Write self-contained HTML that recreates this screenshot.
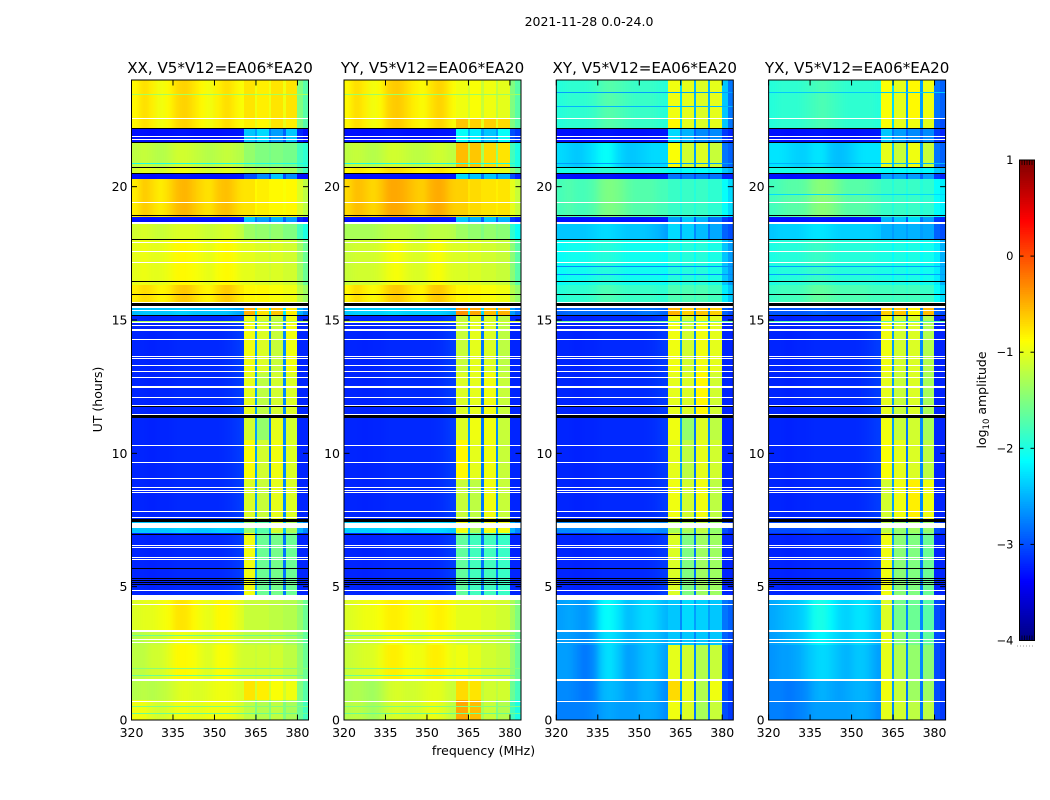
<!DOCTYPE html>
<html lang="en">
<head>
<meta charset="utf-8">
<title>2021-11-28 0.0-24.0</title>
<style>
html,body{margin:0;padding:0;background:#fff}
svg{display:block}
text{font-family:"DejaVu Sans","Liberation Sans",sans-serif;fill:#000}
</style>
</head>
<body>
<svg id="figure" xmlns="http://www.w3.org/2000/svg" width="1050" height="800" viewBox="0 0 1050 800">
  <defs>
    <filter id="smooth-frequency" filterUnits="userSpaceOnUse" x="0" y="0" width="1050" height="800" color-interpolation-filters="sRGB">
      <feGaussianBlur stdDeviation="3.5 0"/>
    </filter>
  </defs>
  <text x="589" y="26" text-anchor="middle" font-size="12.5">2021-11-28 0.0-24.0</text>
  <text x="483.5" y="755" text-anchor="middle" font-size="12.5">frequency (MHz)</text>
  <text transform="translate(102,399.5) rotate(-90)" text-anchor="middle" font-size="12.5">UT (hours)</text>
  <text transform="translate(986,400) rotate(-90)" text-anchor="middle" font-size="12.5">log<tspan font-size="8.5" dy="3">10</tspan><tspan dy="-3"> amplitude</tspan></text>
  <g id="panels"></g>
  <g id="colorbar"></g>
</svg>
<script>
const freqEdges=[320,323,326,329,332,335,338,341,344,347,350,353,356,358.5,360.5,364.7,365.5,369.7,370.5,374.9,375.7,379.9,382,384];
const utEdges=[0,0.75,1.5,2.8,3.35,4.7,7,7.5,9,10.5,11.45,13,15.2,15.65,16.3,18,18.6,18.87,20.28,20.5,20.73,21.63,22.16,22.55,24];
const freqTicks=[320,335,350,365,380];
const utTicks=[0,5,10,15,20];
const colorTicks=[-4,-3,-2,-1,0,1];
const panelTitles=["XX, V5*V12=EA06*EA20","YY, V5*V12=EA06*EA20","XY, V5*V12=EA06*EA20","YX, V5*V12=EA06*EA20"];

const flaggedIntervals=[[0.68,0.72],[1.48,1.55],[2.88,2.92],[3,3.04],[3.3,3.37],[4.31,4.35],[4.5,4.69],[4.83,4.87],[6.01,6.05],[6.08,6.12],[6.44,6.48],[6.54,6.58],[7.22,7.4],[7.58,7.62],[7.8,7.84],[8.52,8.56],[8.58,8.62],[8.69,8.73],[9.03,9.07],[9.64,9.68],[10.28,10.32],[11.44,11.48],[11.78,11.82],[12.08,12.12],[12.47,12.53],[12.83,12.87],[13.05,13.09],[13.26,13.3],[13.53,13.57],[13.6,13.64],[14.23,14.27],[14.59,14.65],[14.79,14.83],[14.89,14.93],[15.33,15.37],[15.45,15.56],[15.65,15.69],[17.12,17.16],[17.53,17.57],[17.87,17.91],[18.6,18.67],[19.37,19.41],[21.76,21.8],[21.87,21.91],[22.53,22.57]];
const blankedIntervals=[[5.05,5.09],[5.13,5.17],[5.2,5.24],[5.28,5.32],[5.67,5.71],[6.94,6.98],[7.42,7.53],[11.32,11.43],[11.73,11.77],[15.16,15.2],[15.53,15.63],[15.94,15.98],[16.43,16.47],[17.98,18.02],[18.88,18.92],[20.49,20.53],[20.7,20.74],[21.64,21.68],[22.17,22.21]];

const blueLow=[-3.2,-3.2,-3.22,-3.2,-3.2,-3.18,-3.18,-3.18,-3.18,-3.18,-3.18,-3.16,-3.12,-3.08];
const gapLow=[-3.3,-3.3,-3.32,-3.3,-3.3,-3.28,-3.28,-3.3,-3.3,-3.3,-3.3,-3.28,-3.28,-3.26];

const xxRows=[
[-.95,-.95,-1.05,-1.1,-1.05,-.95,-.95,-1,-1,-.95,-.95,-.95,-1,-1.1,-1.2,-1.5,-1.25,-1.5,-1.2,-1.5,-1.3,-1.6,-1.8],
[-1.25,-1.2,-1.25,-1.2,-1.15,-1.05,-1,-1.05,-1.05,-1,-.95,-.95,-1,-1.05,-.75,-1.1,-.8,-1.1,-.9,-1.1,-.95,-1.5,-1.7],
[-1.2,-1.2,-1.1,-1.1,-1,-.85,-.85,-.9,-1,-1.05,-.9,-.9,-1,-1.1,-1.1,-1.15,-1.1,-1.15,-1.1,-1.2,-1.2,-1.4,-1.6],
[-1.25,-1.2,-1.15,-1.15,-1.05,-.95,-.95,-1,-1.05,-1.1,-1,-1,-1.05,-1.15,-1.2,-1.2,-1.2,-1.25,-1.2,-1.25,-1.3,-1.45,-1.65],
[-1.05,-1,-1,-.95,-.9,-.75,-.75,-.85,-.95,-1,-.85,-.85,-.95,-1.05,-1.15,-1.15,-1.15,-1.2,-1.2,-1.25,-1.25,-1.4,-1.6],
[...blueLow,-.95,-2.6,-1.6,-2.8,-1.55,-2.8,-1.6,-3.2,-3.2],
[-2.4,-2.4,-2.4,-2.4,-2.4,-2.35,-2.35,-2.4,-2.4,-2.4,-2.35,-2.35,-2.4,-2.4,-1.4,-2.3,-1.7,-2.5,-1.1,-2.4,-1.3,-2.5,-2.7],
[...blueLow,-1.05,-2.6,-1.15,-2.8,-1,-2.7,-1.05,-3.2,-3.2],
[...blueLow,-.9,-2.6,-1.1,-2.8,-.95,-2.7,-1.05,-3.2,-3.2],
[...blueLow,-1.1,-2.6,-1.4,-2.8,-1,-2.7,-1.1,-3.2,-3.2],
[...blueLow,-1,-2.6,-1.2,-2.7,-1.1,-2.7,-1.05,-3.2,-3.2],
[...blueLow,-.95,-2.6,-1.05,-2.7,-1.15,-2.7,-.95,-3.2,-3.2],
[-2.45,-2.4,-2.4,-2.4,-2.4,-2.35,-2.35,-2.4,-2.4,-2.4,-2.4,-2.4,-2.5,-2.55,-.5,-2.2,-.75,-2.2,-.6,-2.2,-.8,-2.5,-2.7],
[-.8,-.7,-.75,-.85,-.8,-.65,-.6,-.7,-.8,-.85,-.7,-.6,-.7,-.8,-.85,-.9,-.85,-.9,-.9,-.95,-.95,-1.2,-1.35],
[-1,-.95,-1,-1,-.95,-.85,-.85,-.9,-.95,-1,-.9,-.85,-.9,-1,-1,-1.05,-1.05,-1.1,-1.05,-1.1,-1.1,-1.35,-1.6],
[-1.1,-1.05,-1.1,-1.15,-1.1,-1.05,-1.05,-1.05,-1.1,-1.15,-1.1,-1.05,-1.1,-1.2,-1.35,-1.45,-1.4,-1.5,-1.4,-1.5,-1.5,-1.8,-2],
[...gapLow,-2.4,-2.8,-2.6,-2.9,-2.5,-2.9,-2.6,-3.2,-3.3],
[-.8,-.6,-.7,-.8,-.7,-.55,-.5,-.6,-.7,-.75,-.6,-.55,-.65,-.75,-.75,-.85,-.8,-.85,-.85,-.9,-.85,-1.05,-1.2],
[...gapLow,-3,-3,-2.7,-3,-2.4,-3,-2.7,-3.3,-3.3],
[-1.1,-1,-1.05,-1.1,-1.05,-.95,-.95,-1,-1.05,-1.1,-1.05,-1,-1.05,-1.1,-1.2,-1.3,-1.2,-1.3,-1.25,-1.3,-1.3,-1.6,-1.8],
[-1.2,-1.15,-1.2,-1.25,-1.2,-1.1,-1.1,-1.15,-1.2,-1.25,-1.2,-1.15,-1.2,-1.25,-1.4,-1.5,-1.5,-1.55,-1.5,-1.55,-1.55,-1.8,-1.9],
[...gapLow,-2.4,-2.6,-2.3,-2.8,-2.6,-2.9,-2.4,-3.2,-3.3],
[-.85,-.7,-.8,-.95,-.85,-.7,-.65,-.75,-.85,-.95,-.8,-.7,-.8,-.9,-.8,-1,-.85,-1,-.75,-1,-.8,-1.5,-1.7],
[-.85,-.7,-.8,-.95,-.85,-.7,-.65,-.75,-.85,-.95,-.8,-.7,-.8,-.9,-.75,-.95,-.8,-.95,-.75,-.95,-.75,-1.5,-1.7]
];
const yyRows=[
[-1.25,-1.2,-1.25,-1.35,-1.25,-1.1,-1.05,-1.1,-1.1,-1.05,-.95,-1,-1.1,-1.2,-.45,-1,-.55,-1.3,-1.15,-1.5,-1.25,-1.8,-2],
[-1.3,-1.25,-1.3,-1.35,-1.25,-1.1,-1.05,-1.1,-1.1,-1.05,-1,-1,-1.1,-1.15,-.7,-1.05,-.75,-1.2,-1.1,-1.2,-1.1,-1.6,-1.8],
[-1.15,-1.1,-1.05,-1.05,-.95,-.8,-.8,-.9,-.95,-.95,-.8,-.8,-.9,-1,-.95,-1.05,-1,-1.1,-1.1,-1.15,-1.15,-1.4,-1.6],
[-1.2,-1.15,-1.1,-1.1,-1.05,-.95,-.95,-1,-1.05,-1.05,-.95,-.95,-1,-1.05,-1.1,-1.1,-1.1,-1.15,-1.15,-1.2,-1.2,-1.4,-1.6],
[-1.05,-1,-.95,-.95,-.9,-.8,-.8,-.85,-.95,-.95,-.85,-.8,-.85,-.95,-1,-1,-1,-1.05,-1.05,-1.1,-1.1,-1.3,-1.5],
[...blueLow,-1.65,-2.6,-1.8,-2.8,-1.8,-2.8,-1.85,-3.2,-3.2],
[-2.35,-2.35,-2.35,-2.35,-2.35,-2.3,-2.3,-2.35,-2.35,-2.3,-2.3,-2.3,-2.35,-2.4,-.95,-2.4,-1.3,-2.6,-.95,-2.6,-.95,-2.5,-2.7],
[...blueLow,-1.15,-2.6,-1.2,-2.8,-.95,-2.7,-1.15,-3.2,-3.2],
[...blueLow,-.85,-2.6,-1,-2.8,-.95,-2.7,-1.15,-3.2,-3.2],
[...blueLow,-1.05,-2.6,-.95,-2.8,-.95,-2.7,-1.15,-3.2,-3.2],
[...blueLow,-1.05,-2.6,-1,-2.8,-.95,-2.7,-1.15,-3.2,-3.2],
[...blueLow,-1.15,-2.6,-1,-2.8,-1.05,-2.7,-1.2,-3.2,-3.2],
[-2.4,-2.35,-2.35,-2.35,-2.35,-2.3,-2.3,-2.35,-2.35,-2.35,-2.35,-2.35,-2.4,-2.45,-.35,-2.1,-.45,-2.3,-.55,-2.4,-.5,-2.6,-2.8],
[-.85,-.7,-.8,-.9,-.8,-.65,-.6,-.7,-.8,-.85,-.65,-.6,-.7,-.8,-.85,-.9,-.85,-.9,-.9,-.95,-.95,-1.25,-1.4],
[-1.15,-1.1,-1.1,-1.1,-1.05,-.95,-.9,-1,-1.05,-1.05,-.95,-.9,-1,-1.05,-1.05,-1.1,-1.05,-1.1,-1.1,-1.15,-1.15,-1.45,-1.7],
[-1.3,-1.3,-1.3,-1.3,-1.25,-1.2,-1.2,-1.2,-1.25,-1.3,-1.2,-1.2,-1.2,-1.25,-1.35,-1.45,-1.4,-1.5,-1.4,-1.5,-1.45,-1.9,-2.1],
[...gapLow,-2.4,-2.7,-2.5,-2.9,-2.4,-2.9,-2.5,-3.1,-3.2],
[-.7,-.55,-.6,-.7,-.6,-.45,-.45,-.5,-.6,-.65,-.5,-.45,-.55,-.65,-.65,-.75,-.7,-.75,-.75,-.8,-.75,-1,-1.15],
[...gapLow,-2.3,-2.7,-2.4,-2.8,-2.4,-2.8,-2.5,-3,-3.2],
[-.85,-.75,-.8,-.85,-.8,-.7,-.7,-.75,-.8,-.85,-.8,-.75,-.8,-.85,-.9,-1,-.9,-1,-.95,-1,-1,-1.4,-1.6],
[-1.2,-1.15,-1.2,-1.25,-1.2,-1.1,-1.1,-1.15,-1.2,-1.2,-1.15,-1.1,-1.15,-1.2,-.55,-1.2,-.6,-1.3,-.7,-1.4,-.75,-1.8,-2],
[...gapLow,-2.1,-2.5,-2.2,-2.6,-2.4,-2.6,-2.1,-3,-3.1],
[-.85,-.7,-.8,-.95,-.85,-.65,-.6,-.7,-.8,-.9,-.75,-.65,-.75,-.9,-.6,-1,-.65,-1,-.65,-1,-.7,-1.5,-1.7],
[-.85,-.7,-.8,-.95,-.85,-.65,-.6,-.7,-.8,-.9,-.75,-.65,-.75,-.9,-.95,-1.1,-.9,-1.15,-.95,-1.2,-1,-1.5,-1.7]
];
const xyRows=[
[-2.75,-2.75,-2.75,-2.75,-2.7,-2.6,-2.55,-2.6,-2.6,-2.6,-2.55,-2.55,-2.6,-2.7,-.95,-2.7,-1.05,-2.8,-1.3,-2.8,-1.15,-3,-3.1],
[-2.7,-2.7,-2.75,-2.8,-2.75,-2.5,-2.45,-2.5,-2.6,-2.6,-2.5,-2.5,-2.6,-2.7,-.7,-2.6,-1,-2.8,-1.25,-2.8,-.95,-3,-3.1],
[-2.6,-2.6,-2.7,-2.8,-2.7,-2.35,-2.25,-2.4,-2.6,-2.55,-2.45,-2.4,-2.5,-2.6,-1,-2.6,-1.1,-2.7,-1.25,-2.7,-1.15,-3,-3.1],
[-2.6,-2.6,-2.65,-2.7,-2.6,-2.3,-2.25,-2.35,-2.5,-2.5,-2.4,-2.4,-2.45,-2.55,-2.4,-2.7,-2.4,-2.7,-2.4,-2.7,-2.4,-2.9,-3],
[-2.6,-2.55,-2.6,-2.65,-2.5,-2.15,-2.1,-2.25,-2.45,-2.4,-2.3,-2.3,-2.4,-2.5,-2.4,-2.7,-2.3,-2.6,-2.35,-2.6,-2.4,-2.8,-2.9],
[...blueLow,-1.05,-2.6,-1.5,-2.8,-1.35,-2.8,-1.35,-3.2,-3.2],
[-2.7,-2.7,-2.7,-2.7,-2.7,-2.65,-2.65,-2.7,-2.7,-2.7,-2.65,-2.65,-2.7,-2.7,-1.3,-2.5,-1.3,-2.7,-1.2,-2.6,-1.4,-3,-3.1],
[...blueLow,-.95,-2.6,-1.1,-2.8,-.95,-2.7,-1.2,-3.2,-3.2],
[...blueLow,-1,-2.6,-1.2,-2.8,-1,-2.7,-1.1,-3.2,-3.2],
[...blueLow,-.95,-2.6,-1.4,-2.8,-1.05,-2.7,-1.2,-3.2,-3.2],
[...blueLow,-1,-2.6,-1.05,-2.7,-.85,-2.7,-1.1,-3.2,-3.2],
[...blueLow,-.95,-2.6,-1.1,-2.7,-.95,-2.7,-1,-3.2,-3.2],
[-2.9,-2.85,-2.85,-2.85,-2.85,-2.85,-2.85,-2.85,-2.85,-2.85,-2.8,-2.8,-2.85,-2.9,-.5,-2.5,-.65,-2.7,-.6,-2.7,-.65,-2.9,-3],
[-1.95,-1.9,-1.9,-1.9,-1.85,-1.75,-1.75,-1.8,-1.85,-1.85,-1.85,-1.85,-1.9,-1.9,-1.75,-1.85,-1.75,-1.85,-1.75,-1.85,-1.8,-2.2,-2.4],
[-2.1,-2.05,-2.05,-2.05,-2,-1.95,-1.95,-2,-2.05,-2.05,-2.05,-2.05,-2.05,-2.1,-1.95,-2.1,-1.95,-2.1,-1.95,-2.1,-2,-2.4,-2.6],
[-2.4,-2.4,-2.4,-2.4,-2.35,-2.3,-2.3,-2.35,-2.4,-2.4,-2.4,-2.45,-2.5,-2.6,-2.3,-2.7,-2.35,-2.7,-2.45,-2.8,-2.55,-2.9,-3],
[...gapLow,-2.6,-2.9,-2.4,-2.9,-2.5,-2.9,-2.8,-3.1,-3.2],
[-1.78,-1.72,-1.78,-1.78,-1.72,-1.55,-1.5,-1.55,-1.65,-1.72,-1.72,-1.72,-1.78,-1.78,-1.85,-1.95,-1.85,-1.95,-1.85,-1.95,-1.9,-2.1,-2.3],
[...gapLow,-2.8,-3,-2.8,-3,-2.8,-3,-2.8,-3.2,-3.2],
[-2,-2,-2,-2,-1.95,-1.9,-1.9,-1.95,-2,-2,-2,-2,-2,-2.05,-2.1,-2.2,-2.1,-2.2,-2.1,-2.2,-2.1,-2.4,-2.5],
[-2.3,-2.35,-2.4,-2.35,-2.25,-2.1,-2.1,-2.3,-2.4,-2.4,-2.35,-2.3,-2.3,-2.3,-.9,-2.4,-1.1,-2.6,-1.05,-2.6,-1.15,-2.8,-2.9],
[...gapLow,-2.3,-2.7,-2.5,-2.9,-2.7,-2.9,-2.7,-3.1,-3.2],
[-1.95,-1.9,-1.9,-1.9,-1.85,-1.75,-1.7,-1.75,-1.8,-1.85,-1.85,-1.85,-1.9,-1.95,-.85,-2.3,-1,-2.5,-1.05,-2.5,-1,-2.4,-2.8],
[-1.95,-1.9,-1.9,-1.9,-1.85,-1.75,-1.7,-1.75,-1.8,-1.85,-1.85,-1.85,-1.9,-1.95,-.95,-2.3,-1,-2.5,-1.05,-2.5,-1,-2.4,-2.8]
];
const yxRows=[
[-2.75,-2.75,-2.8,-2.75,-2.7,-2.6,-2.6,-2.6,-2.6,-2.6,-2.55,-2.55,-2.6,-2.7,-1,-2.7,-1.1,-2.8,-1.2,-2.8,-1.2,-3,-3.1],
[-2.75,-2.75,-2.8,-2.75,-2.7,-2.55,-2.5,-2.55,-2.6,-2.55,-2.5,-2.5,-2.55,-2.65,-.95,-2.6,-1.15,-2.8,-1.35,-2.8,-1.35,-3,-3.1],
[-2.65,-2.6,-2.6,-2.55,-2.45,-2.35,-2.3,-2.35,-2.45,-2.5,-2.4,-2.4,-2.5,-2.6,-1,-2.6,-1.25,-2.7,-1.4,-2.7,-1.45,-3,-3.1],
[-2.6,-2.55,-2.5,-2.45,-2.35,-2.2,-2.15,-2.25,-2.35,-2.4,-2.3,-2.3,-2.4,-2.5,-1,-2.6,-1.45,-2.7,-1.55,-2.7,-1.65,-3,-3.1],
[-2.55,-2.5,-2.45,-2.4,-2.3,-2.05,-2,-2.15,-2.3,-2.35,-2.25,-2.25,-2.35,-2.45,-1.05,-2.6,-1.55,-2.7,-1.6,-2.7,-1.7,-3,-3.1],
[...blueLow,-.95,-2.6,-1.45,-2.8,-1.5,-2.8,-1.6,-3.2,-3.2],
[-3,-3,-3,-3,-3,-2.95,-2.95,-3,-3,-3,-2.95,-2.95,-3,-3,-1.2,-2.5,-1.4,-2.7,-1.35,-2.6,-1.4,-3,-3.1],
[...blueLow,-1.1,-2.6,-.95,-2.8,-.8,-2.7,-.95,-3.2,-3.2],
[...blueLow,-.9,-2.6,-1,-2.8,-1.05,-2.7,-1.2,-3.2,-3.2],
[...blueLow,-.95,-2.6,-1.15,-2.8,-1.1,-2.7,-1.3,-3.2,-3.2],
[...blueLow,-1,-2.6,-1.15,-2.8,-1.05,-2.7,-1.3,-3.2,-3.2],
[...blueLow,-.95,-2.6,-1.1,-2.8,-1.05,-2.7,-1.25,-3.2,-3.2],
[-2.95,-2.95,-2.95,-2.95,-2.95,-2.9,-2.9,-2.95,-2.95,-2.95,-2.95,-2.95,-2.95,-3,-.65,-2.5,-.6,-2.7,-.85,-2.7,-.55,-2.9,-3],
[-1.85,-1.8,-1.8,-1.8,-1.75,-1.65,-1.65,-1.7,-1.75,-1.75,-1.75,-1.75,-1.8,-1.8,-1.8,-1.85,-1.8,-1.85,-1.8,-1.85,-1.85,-2.1,-2.3],
[-2,-1.95,-1.95,-1.95,-1.9,-1.85,-1.85,-1.9,-1.95,-1.95,-1.95,-1.95,-1.95,-2,-2,-2.1,-2,-2.1,-2,-2.1,-2.05,-2.2,-2.5],
[-2.4,-2.35,-2.35,-2.35,-2.3,-2.25,-2.25,-2.3,-2.35,-2.35,-2.35,-2.35,-2.35,-2.4,-2.5,-2.6,-2.5,-2.6,-2.5,-2.6,-2.55,-2.9,-3],
[...gapLow,-2.5,-2.8,-2.4,-2.9,-2.3,-2.8,-2.6,-3.1,-3.2],
[-1.8,-1.75,-1.7,-1.7,-1.65,-1.5,-1.45,-1.5,-1.6,-1.7,-1.7,-1.7,-1.75,-1.8,-1.85,-1.95,-1.85,-1.95,-1.85,-1.95,-1.9,-2.1,-2.2],
[...gapLow,-2.6,-2.8,-2.6,-2.9,-2.6,-2.9,-2.6,-3.1,-3.2],
[-2,-2,-2,-2,-1.95,-1.9,-1.9,-1.95,-2,-2,-2,-2,-2,-2.05,-2.1,-2.2,-2.1,-2.2,-2.1,-2.2,-2.15,-2.4,-2.5],
[-2.25,-2.25,-2.3,-2.35,-2.35,-2.25,-2.25,-2.4,-2.45,-2.4,-2.3,-2.25,-2.25,-2.25,-1,-2.4,-1.15,-2.6,-.95,-2.6,-1.15,-2.8,-2.9],
[...gapLow,-2.4,-2.8,-2.6,-2.9,-2.7,-2.9,-2.7,-3.1,-3.2],
[-1.95,-1.9,-1.9,-1.9,-1.85,-1.8,-1.75,-1.8,-1.85,-1.9,-1.9,-1.9,-1.9,-1.95,-.9,-2.3,-1,-2.6,-.95,-2.6,-1,-2.9,-3],
[-1.95,-1.9,-1.9,-1.9,-1.85,-1.8,-1.75,-1.8,-1.85,-1.9,-1.9,-1.9,-1.9,-1.95,-.9,-2.3,-1,-2.6,-.85,-2.6,-.95,-2.8,-2.9]
];

const xxStreakUT=[0.26,0.49,1.65,1.92,3.15,14.95,20.85,23.45];
const xxStreakLevel=[-1.6,-1.5,-1.6,-1.45,-1.6,-1.3,-2,-1.3];
const yyStreakUT=[0.26,0.49,1.65,1.92,3.15,14.95,20.85,23.45];
const yyStreakLevel=[-1.6,-1.5,-1.6,-1.45,-1.6,-1.1,-2,-1.35];
const xyStreakUT=[14.95,16.7,17,20.85,23,23.52];
const xyStreakLevel=[-1.6,-2.7,-2.7,-2.6,-2.5,-2.6];
const yxStreakUT=[14.95,16.7,17,19.7,20.85,23.52];
const yxStreakLevel=[-1.7,-2.6,-2.6,-2.3,-2.5,-2.4];

const svgNS="http://www.w3.org/2000/svg";
const plotTop=80,plotBottom=720,plotWidth=177;
const panelLefts=[131.5,344,556.3,768.6];
const smoothColumns=14;
function xScale(left,f){return left+(f-320)/64*plotWidth;}
function yScale(ut){return plotBottom-ut/24*(plotBottom-plotTop);}
function colorbarScale(v){return 640.5-(v+4)/5*480.5;}
function clamp(a){return Math.max(0,Math.min(1,a));}
function jet(v){
  const t=clamp((v+4)/5);
  const r=Math.round(255*clamp(1.5-Math.abs(4*t-3)));
  const g=Math.round(255*clamp(1.5-Math.abs(4*t-2)));
  const b=Math.round(255*clamp(1.5-Math.abs(4*t-1)));
  return "rgb("+r+","+g+","+b+")";
}
function make(tag,parent,attrs){
  const el=document.createElementNS(svgNS,tag);
  for(const k in attrs){el.setAttribute(k,attrs[k]);}
  parent.appendChild(el);
  return el;
}
function band(parent,left,startUT,endUT,color,name){
  const y1=Math.round(yScale(endUT));
  const span=yScale(startUT)-yScale(endUT);
  const h=span<1.5?1:Math.round(span);
  const el=make("rect",parent,{x:Math.round(left),y:y1,width:Math.round(left+plotWidth)-Math.round(left),height:h,fill:color,"shape-rendering":"crispEdges"});
  
  
}
function drawPanel(index,rows,streakUT,streakLevel){
  const left=panelLefts[index];
  const root=document.getElementById("panels");
  const g=make("g",root,{});
  
  
  const lowLeft=Math.round(xScale(left,freqEdges[0]));
  const lowRight=Math.round(xScale(left,freqEdges[smoothColumns]));
  const clip=make("clipPath",g,{id:"low-clip-"+index});
  make("rect",clip,{x:lowLeft,y:plotTop,width:lowRight-lowLeft,height:plotBottom-plotTop});
  const lowOuter=make("g",g,{"clip-path":"url(#low-clip-"+index+")"});
  
  
  const lowBand=make("g",lowOuter,{filter:"url(#smooth-frequency)"});
  rows.forEach(function(row,r){
    const y1=Math.round(yScale(utEdges[r+1]));
    const y2=Math.round(yScale(utEdges[r]));
    row.forEach(function(v,c){
      let x1=Math.round(xScale(left,freqEdges[c]));
      let x2=Math.round(xScale(left,freqEdges[c+1]));
      if(c===0){x1-=14;}
      if(c===smoothColumns-1){x2+=14;}
      const cell=make("rect",c<smoothColumns?lowBand:g,{x:x1,y:y1,width:x2-x1,height:y2-y1,fill:jet(v),"shape-rendering":"crispEdges"});
      
      
    });
  });
  streakUT.forEach(function(ut,i){
    band(g,left,ut-0.02,ut+0.02,jet(streakLevel[i]),'interference-streak');
  });
  flaggedIntervals.forEach(function(p){band(g,left,p[0],p[1],"#fff",'flagged-gap');});
  blankedIntervals.forEach(function(p){band(g,left,p[0],p[1],"#000",'blank-line');});
  const right=left+plotWidth;
  freqTicks.forEach(function(f){
    const x=xScale(left,f);
    const t1=make("line",g,{x1:x,x2:x,y1:plotBottom,y2:plotBottom-5.5,stroke:"#000","stroke-width":1});
    
    
    const t2=make("line",g,{x1:x,x2:x,y1:plotTop,y2:plotTop+5.5,stroke:"#000","stroke-width":1});
    
    
    const label=make("text",g,{x:x,y:737,"text-anchor":"middle","font-size":12.5});
    
    
    label.textContent=f;
  });
  utTicks.forEach(function(ut){
    const y=yScale(ut);
    const t1=make("line",g,{x1:left,x2:left+5.5,y1:y,y2:y,stroke:"#000","stroke-width":1});
    
    
    const t2=make("line",g,{x1:right,x2:right-5.5,y1:y,y2:y,stroke:"#000","stroke-width":1});
    
    
    const label=make("text",g,{x:left-4,y:y+4.5,"text-anchor":"end","font-size":12.5});
    
    
    label.textContent=ut;
  });
  const frame=make("rect",g,{x:left,y:plotTop,width:plotWidth,height:plotBottom-plotTop,fill:"none",stroke:"#000","stroke-width":1});
  
  
  const title=make("text",g,{x:left+plotWidth/2,y:73,"text-anchor":"middle","font-size":15.1});
  
  
  title.textContent=panelTitles[index];
}
drawPanel(0,xxRows,xxStreakUT,xxStreakLevel);
drawPanel(1,yyRows,yyStreakUT,yyStreakLevel);
drawPanel(2,xyRows,xyStreakUT,xyStreakLevel);
drawPanel(3,yxRows,yxStreakUT,yxStreakLevel);

(function drawColorbar(){
  const g=document.getElementById("colorbar");
  const x0=1019.5,x1=1034.5;
  for(let i=0;i<256;i++){
    const lo=-4+5*i/256,hi=-4+5*(i+1)/256;
    const top=colorbarScale(hi),bottom=colorbarScale(lo);
    const s=make("rect",g,{x:x0,y:top,width:x1-x0,height:bottom-top+0.6,fill:jet((lo+hi)/2),"shape-rendering":"crispEdges"});
    
    
  }
  colorTicks.forEach(function(v){
    const y=colorbarScale(v);
    const t1=make("line",g,{x1:x0,x2:x0+4,y1:y,y2:y,stroke:"#000","stroke-width":1});
    
    
    const t2=make("line",g,{x1:x1,x2:x1-4,y1:y,y2:y,stroke:"#000","stroke-width":1});
    
    
    const label=make("text",g,{x:1013.5,y:y+4,"text-anchor":"end","font-size":11.5});
    
    
    label.textContent=(v<0?"\u2212":"")+Math.abs(v);
  });
  for(let k=1;k<6;k++){
    const x=x0+(x1-x0)*k/6;
    const top=make("line",g,{x1:x,x2:x,y1:colorbarScale(1),y2:colorbarScale(1)+5,stroke:"#000","stroke-width":0.7});
    
    
    const bottom=make("line",g,{x1:x,x2:x,y1:colorbarScale(-4),y2:colorbarScale(-4)-5,stroke:"#000","stroke-width":0.7});
    
    
  }
  const frame=make("rect",g,{x:x0,y:colorbarScale(1),width:x1-x0,height:colorbarScale(-4)-colorbarScale(1),fill:"none",stroke:"#000","stroke-width":1});
  
  
  const dots=make("line",g,{x1:1017,x2:1035,y1:646,y2:646,stroke:"#999","stroke-width":1,"stroke-dasharray":"1 2"});
  
  
})();
</script>
</body>
</html>
